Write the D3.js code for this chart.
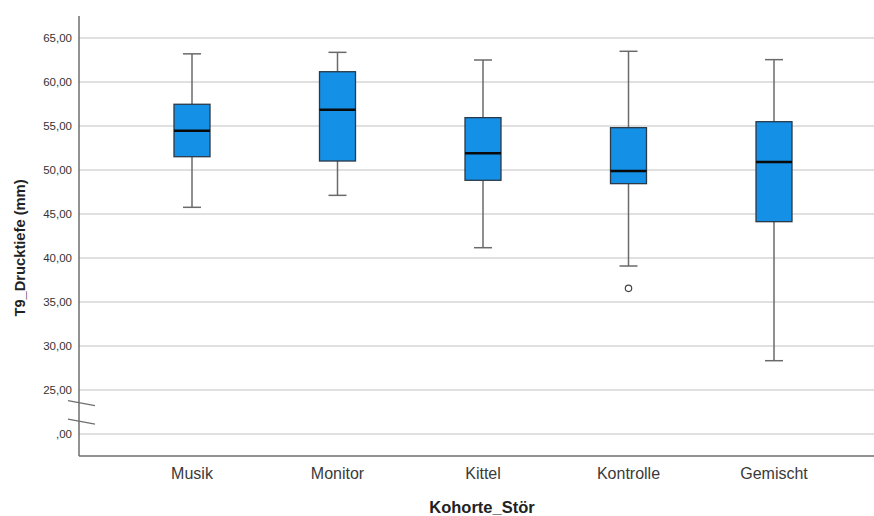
<!DOCTYPE html>
<html>
<head>
<meta charset="utf-8">
<script src="https://cdn.jsdelivr.net/npm/d3@7"></script>
<style>
  html, body { margin: 0; padding: 0; background: #fff; }
  svg { display: block; font-family: "Liberation Sans", Arial, sans-serif; }
</style>
</head>
<body>
<svg id="chart" width="874" height="516"></svg>
<script>
// Groups and five-number summaries of T9_Drucktiefe (mm)
const categories = ["Musik", "Monitor", "Kittel", "Kontrolle", "Gemischt"];
const whiskerLow  = [45.76, 47.12, 41.17, 39.09, 28.33];
const q1          = [51.51, 51.02, 48.83, 48.45, 44.13];
const median      = [54.47, 56.85, 51.90, 49.89, 50.91];
const q3          = [57.47, 61.17, 55.95, 54.81, 55.49];
const whiskerHigh = [63.20, 63.37, 62.50, 63.49, 62.54];
// Outliers: [group, value]
const outliers = [["Kontrolle", 36.55]];
// Y tick values (axis is broken between 0 and 25)
const yTicks = [0, 25, 30, 35, 40, 45, 50, 55, 60, 65];

const svg = d3.select("#chart");
const plotLeft = 79, plotRight = 874, plotTop = 16, plotBottom = 456;

// Upper segment is linear from 25 upward; 0 sits one step below 25 after the break
const yMain = d3.scaleLinear().domain([25, 65]).range([390, 38]);
const step = yMain(25) - yMain(30);
const y = v => v >= 25 ? yMain(v) : yMain(25) + step;

const x = d3.scaleBand().domain(categories).range([119.25, 846.75]).paddingInner(0).paddingOuter(0);
const cx = c => x(c) + x.bandwidth() / 2;

// Grid lines
svg.append("g").selectAll("line").data(yTicks).join("line")
  .attr("x1", plotLeft).attr("x2", plotRight)
  .attr("y1", d => y(d)).attr("y2", d => y(d))
  .attr("stroke", "#d6d6d6").attr("stroke-width", 1.5);

// Y axis line and tick labels
const gy = svg.append("g").attr("transform", `translate(${plotLeft},0)`);
gy.append("line").attr("x1", 0).attr("x2", 0).attr("y1", plotTop).attr("y2", plotBottom)
  .attr("stroke", "#6e6e6e").attr("stroke-width", 1.5);
const fmt = v => v === 0 ? ",00" : d3.format(".2f")(v).replace(".", ",");
gy.selectAll("text").data(yTicks).join("text")
  .attr("x", -7).attr("y", d => y(d)).attr("dy", "0.35em")
  .attr("text-anchor", "end").attr("font-size", 11.5).attr("fill", "#333")
  .text(fmt);

// Axis break marks
const breakY = [yMain(25) + step * 0.3, yMain(25) + step * 0.72];
svg.append("g").selectAll("line").data(breakY).join("line")
  .attr("x1", 68).attr("x2", 95)
  .attr("y1", d => d - 2.5).attr("y2", d => d + 2.5)
  .attr("stroke", "#6e6e6e").attr("stroke-width", 1.2);

// X axis line
svg.append("line").attr("x1", plotLeft).attr("x2", plotRight).attr("y1", plotBottom).attr("y2", plotBottom)
  .attr("stroke", "#6e6e6e").attr("stroke-width", 1.5);

// X tick labels
svg.append("g").selectAll("text").data(categories).join("text")
  .attr("x", d => cx(d)).attr("y", 479)
  .attr("text-anchor", "middle").attr("font-size", 16).attr("fill", "#3a3a3a")
  .text(d => d);

// Axis titles
svg.append("text").attr("x", 482).attr("y", 513).attr("text-anchor", "middle")
  .attr("font-size", 16.5).attr("font-weight", "bold").attr("fill", "#222")
  .text("Kohorte_Stör");
svg.append("text").attr("transform", "translate(25,248) rotate(-90)")
  .attr("text-anchor", "middle").attr("font-size", 14.7).attr("font-weight", "bold").attr("fill", "#222")
  .text("T9_Drucktiefe (mm)");

// Boxes
const boxW = 36, capW = 18;
const data = categories.map((c, i) => ({
  c, lo: whiskerLow[i], q1: q1[i], med: median[i], q3: q3[i], hi: whiskerHigh[i]
}));
const g = svg.append("g").selectAll("g").data(data).join("g");
const wColor = "#6a6a6a";
// whiskers
g.append("line").attr("x1", d => cx(d.c)).attr("x2", d => cx(d.c))
  .attr("y1", d => y(d.hi)).attr("y2", d => y(d.q3)).attr("stroke", wColor).attr("stroke-width", 1.5);
g.append("line").attr("x1", d => cx(d.c)).attr("x2", d => cx(d.c))
  .attr("y1", d => y(d.q1)).attr("y2", d => y(d.lo)).attr("stroke", wColor).attr("stroke-width", 1.5);
g.append("line").attr("x1", d => cx(d.c) - capW / 2).attr("x2", d => cx(d.c) + capW / 2)
  .attr("y1", d => y(d.hi)).attr("y2", d => y(d.hi)).attr("stroke", wColor).attr("stroke-width", 1.5);
g.append("line").attr("x1", d => cx(d.c) - capW / 2).attr("x2", d => cx(d.c) + capW / 2)
  .attr("y1", d => y(d.lo)).attr("y2", d => y(d.lo)).attr("stroke", wColor).attr("stroke-width", 1.5);
// box
g.append("rect").attr("x", d => cx(d.c) - boxW / 2).attr("width", boxW)
  .attr("y", d => y(d.q3)).attr("height", d => y(d.q1) - y(d.q3))
  .attr("fill", "#1490e6").attr("stroke", "#2b3a48").attr("stroke-width", 1.3);
// median
g.append("line").attr("x1", d => cx(d.c) - boxW / 2).attr("x2", d => cx(d.c) + boxW / 2)
  .attr("y1", d => y(d.med)).attr("y2", d => y(d.med)).attr("stroke", "#0a0a0a").attr("stroke-width", 2.5);

// Outliers
svg.append("g").selectAll("circle").data(outliers).join("circle")
  .attr("cx", d => cx(d[0])).attr("cy", d => y(d[1])).attr("r", 3.2)
  .attr("fill", "#fff").attr("stroke", "#444").attr("stroke-width", 1.2);
</script>
</body>
</html>
